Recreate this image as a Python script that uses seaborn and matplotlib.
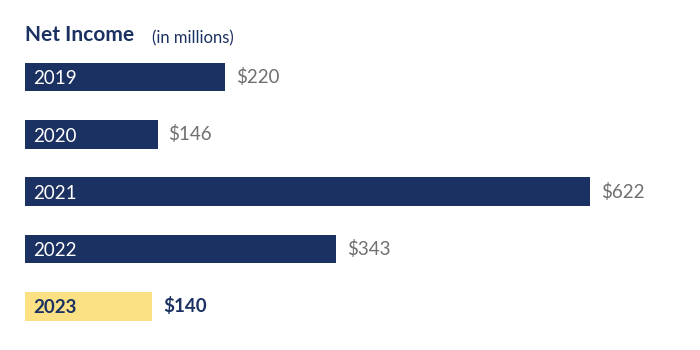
import matplotlib
matplotlib.use('Agg')
import matplotlib.pyplot as plt
import pandas as pd
import seaborn as sns

# Net income by year, in millions of dollars
years = ['2019', '2020', '2021', '2022', '2023']
net_income = [220, 146, 622, 343, 140]
value_labels = ['$220', '$146', '$622', '$343', '$140']

navy = '#1b3162'
yellow = '#fbe084'
bar_colors = [navy, navy, navy, navy, yellow]

sns.set_theme(style='white')
plt.rcParams['font.family'] = ['Lato', 'DejaVu Sans']

df = pd.DataFrame({'year': years, 'income': net_income})

fig = plt.figure(figsize=(7, 3.5), dpi=100)
ax = fig.add_axes([25 / 700, 0.0433, 0.908, 0.8186])

sns.barplot(data=df, x='income', y='year', hue='year', palette=bar_colors,
            width=0.5, legend=False, ax=ax, saturation=1, linewidth=0)

ax.set_xlim(0, 700)
ax.set_ylim(4.5, -0.5)
ax.axis('off')

# year labels inside bars, values to the right
for i, (yr, val, lab) in enumerate(zip(years, net_income, value_labels)):
    last = i == len(years) - 1
    ax.text(9, i + 0.03, yr, va='center', ha='left', fontsize=13.5,
            color=navy if last else 'white',
            fontweight='bold' if last else 'normal')
    ax.text(val + 12, i, lab, va='center', ha='left', fontsize=13.5,
            color=navy if last else '#707070',
            fontweight='bold' if last else 'normal')

fig.text(25 / 700, 1 - 41 / 350, 'Net Income', fontsize=15, fontweight='bold',
         color=navy, ha='left', va='baseline')
fig.text(152 / 700, 1 - 43 / 350, '(in millions)', fontsize=12,
         color=navy, ha='left', va='baseline')

fig.savefig('out.png', dpi=100)
